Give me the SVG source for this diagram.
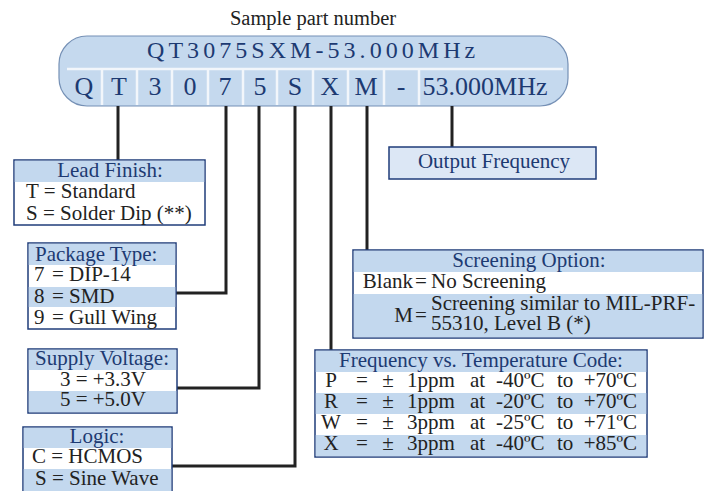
<svg xmlns="http://www.w3.org/2000/svg" width="709" height="491" viewBox="0 0 709 491">
  <style>
    text { font-family: "Liberation Serif", "Times New Roman", serif; font-size: 21px; fill: #222; }
    .hd { fill: #1d3a72; }
    .pn { fill: #1d3a72; font-size: 26px; text-anchor: middle; }
    .mid { text-anchor: middle; }
    .end { text-anchor: end; }
    .box { fill: #fff; stroke: #1f3d7a; stroke-width: 1.5; }
    .band { fill: #c3d8ee; }
    .sep { stroke: #f2f6fb; stroke-width: 2.5; }
    .wire { fill: none; stroke: #222; stroke-width: 3; }
  </style>

  <!-- caption -->
  <text x="313" y="25" class="mid" style="font-size:20.5px">Sample part number</text>

  <!-- part number pill -->
  <g id="part-number">
    <rect x="59" y="36" width="509" height="70" rx="28" ry="28" fill="#c5d9ee" stroke="#7590b5" stroke-width="1.2"/>
    <text x="147" y="58" class="hd" style="font-size:24px;letter-spacing:4.05px">QT3075SXM-53.000MHz</text>
    <line x1="67" y1="69" x2="563" y2="69" class="sep"/>
    <g class="sep">
      <line x1="102" y1="69" x2="102" y2="105"/>
      <line x1="137" y1="69" x2="137" y2="105"/>
      <line x1="172" y1="69" x2="172" y2="105"/>
      <line x1="208" y1="69" x2="208" y2="105"/>
      <line x1="243" y1="69" x2="243" y2="105"/>
      <line x1="277" y1="69" x2="277" y2="105"/>
      <line x1="313" y1="69" x2="313" y2="105"/>
      <line x1="348" y1="69" x2="348" y2="105"/>
      <line x1="384" y1="69" x2="384" y2="105"/>
      <line x1="419" y1="69" x2="419" y2="105"/>
    </g>
    <text x="84" y="95" class="pn">Q</text>
    <text x="119" y="95" class="pn">T</text>
    <text x="155" y="95" class="pn">3</text>
    <text x="190" y="95" class="pn">0</text>
    <text x="225" y="95" class="pn">7</text>
    <text x="260" y="95" class="pn">5</text>
    <text x="295" y="95" class="pn">S</text>
    <text x="330" y="95" class="pn">X</text>
    <text x="366" y="95" class="pn">M</text>
    <text x="401" y="95" class="pn">-</text>
    <text x="485" y="95" class="pn">53.000MHz</text>
  </g>

  <!-- connectors -->
  <g id="connectors">
    <polyline class="wire" points="118,106 118,160"/>
    <polyline class="wire" points="226,106 226,293 176,293"/>
    <polyline class="wire" points="259,106 259,388 177,388"/>
    <polyline class="wire" points="295,106 295,466 172,466"/>
    <polyline class="wire" points="331,106 331,350"/>
    <polyline class="wire" points="367,106 367,250"/>
    <polyline class="wire" points="452,106 452,147"/>
  </g>

  <!-- lead finish -->
  <g id="lead-finish">
    <rect x="14" y="160" width="191" height="65" class="box"/>
    <rect x="14.75" y="160.75" width="189.5" height="21.25" class="band"/>
    <text x="110" y="177" class="hd mid">Lead Finish:</text>
    <text x="26" y="198">T = Standard</text>
    <text x="26" y="220">S = Solder Dip (**)</text>
  </g>

  <!-- package type -->
  <g id="package-type">
    <rect x="28" y="243" width="148" height="86" class="box"/>
    <rect x="28.75" y="243.75" width="146.5" height="21.25" class="band"/>
    <rect x="28.75" y="287" width="146.5" height="20" class="band"/>
    <text x="35" y="261" class="hd">Package Type:</text>
    <text x="34" y="281">7</text><text x="52" y="281">=</text><text x="69" y="281">DIP-14</text>
    <text x="34" y="303">8</text><text x="52" y="303">=</text><text x="69" y="303">SMD</text>
    <text x="34" y="324">9</text><text x="52" y="324">=</text><text x="69" y="324">Gull Wing</text>
  </g>

  <!-- supply voltage -->
  <g id="supply-voltage">
    <rect x="28" y="349" width="149" height="64" class="box"/>
    <rect x="28.75" y="349.75" width="147.5" height="20.25" class="band"/>
    <rect x="28.75" y="391" width="147.5" height="21.25" class="band"/>
    <text x="102" y="365" class="hd mid">Supply Voltage:</text>
    <text x="103" y="386" class="mid">3 = +3.3V</text>
    <text x="103" y="406" class="mid">5 = +5.0V</text>
  </g>

  <!-- logic -->
  <g id="logic">
    <rect x="23" y="427" width="149" height="70" class="box"/>
    <rect x="23.75" y="427.75" width="147.5" height="20.25" class="band"/>
    <rect x="23.75" y="469" width="147.5" height="27" class="band"/>
    <text x="97" y="443" class="hd mid">Logic:</text>
    <text x="32" y="463">C = HCMOS</text>
    <text x="35" y="485">S = Sine Wave</text>
  </g>

  <!-- output frequency -->
  <g id="output-frequency">
    <rect x="389" y="147" width="207" height="32" fill="#dce7f5" stroke="#1f3d7a" stroke-width="1.5"/>
    <text x="494" y="168" class="hd mid">Output Frequency</text>
  </g>

  <!-- screening option -->
  <g id="screening-option">
    <rect x="353" y="250" width="350" height="88" class="box"/>
    <rect x="353.75" y="250.75" width="348.5" height="21.25" class="band"/>
    <rect x="353.75" y="294" width="348.5" height="43.25" class="band"/>
    <text x="529" y="267" class="hd mid">Screening Option:</text>
    <text x="413" y="288" class="end">Blank</text><text x="421" y="288" class="mid">=</text>
    <text x="431" y="288">No Screening</text>
    <text x="413" y="322" class="end">M</text><text x="421" y="322" class="mid">=</text>
    <text x="431" y="310">Screening similar to MIL-PRF-</text>
    <text x="431" y="330">55310, Level B (*)</text>
  </g>

  <!-- frequency vs temperature -->
  <g id="frequency-temperature">
    <rect x="315" y="350" width="332" height="107" class="box"/>
    <rect x="315.75" y="350.75" width="330.5" height="21.25" class="band"/>
    <rect x="315.75" y="393" width="330.5" height="21" class="band"/>
    <rect x="315.75" y="435" width="330.5" height="21.25" class="band"/>
    <text x="481" y="367" class="hd mid">Frequency vs. Temperature Code:</text>
    <g>
      <text x="331" y="387" class="mid">P</text><text x="362" y="387" class="mid">=</text><text x="388" y="387" class="mid">±</text>
      <text x="407" y="387">1ppm</text><text x="470" y="387">at</text><text x="496" y="387">-40ºC</text><text x="557" y="387">to</text><text x="637" y="387" class="end">+70ºC</text>
    </g>
    <g>
      <text x="331" y="408" class="mid">R</text><text x="362" y="408" class="mid">=</text><text x="388" y="408" class="mid">±</text>
      <text x="407" y="408">1ppm</text><text x="470" y="408">at</text><text x="496" y="408">-20ºC</text><text x="557" y="408">to</text><text x="637" y="408" class="end">+70ºC</text>
    </g>
    <g>
      <text x="331" y="429" class="mid">W</text><text x="362" y="429" class="mid">=</text><text x="388" y="429" class="mid">±</text>
      <text x="407" y="429">3ppm</text><text x="470" y="429">at</text><text x="496" y="429">-25ºC</text><text x="557" y="429">to</text><text x="637" y="429" class="end">+71ºC</text>
    </g>
    <g>
      <text x="331" y="450" class="mid">X</text><text x="362" y="450" class="mid">=</text><text x="388" y="450" class="mid">±</text>
      <text x="407" y="450">3ppm</text><text x="470" y="450">at</text><text x="496" y="450">-40ºC</text><text x="557" y="450">to</text><text x="637" y="450" class="end">+85ºC</text>
    </g>
  </g>
</svg>
